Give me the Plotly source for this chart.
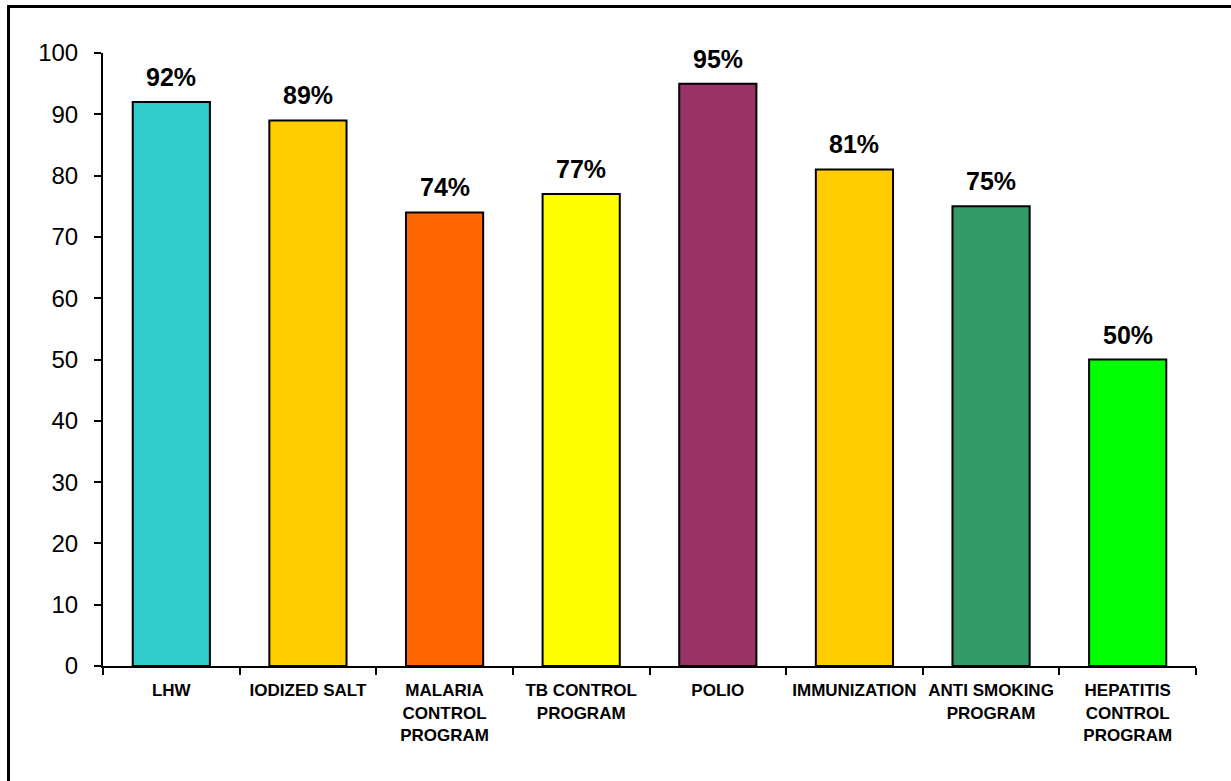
import plotly.graph_objects as go

# Programme awareness (%) by health programme
categories = [
    "LHW",
    "IODIZED SALT",
    "MALARIA<br>CONTROL<br>PROGRAM",
    "TB CONTROL<br>PROGRAM",
    "POLIO",
    "IMMUNIZATION",
    "ANTI SMOKING<br>PROGRAM",
    "HEPATITIS<br>CONTROL<br>PROGRAM",
]
values = [92, 89, 74, 77, 95, 81, 75, 50]
bar_colors = ["#33CCCC", "#FFCC00", "#FF6600", "#FFFF00",
              "#993366", "#FFCC00", "#339966", "#00FF00"]
y_ticks = list(range(0, 101, 10))

W, H = 1231, 781
ML, MR, MT, MB = 103, 35, 53, 115

fig = go.Figure(
    go.Bar(
        x=categories,
        y=values,
        marker=dict(color=bar_colors, line=dict(color="black", width=2)),
        width=0.565,
        hoverinfo="skip",
    )
)

# Percentage labels above each bar
for cat, val in zip(categories, values):
    fig.add_annotation(
        x=cat, y=val, text=f"<b>{val}%</b>",
        showarrow=False, yanchor="bottom", yshift=9,
        font=dict(family="Arial, Liberation Sans", size=25, color="black"),
    )

# Outer frame: left and top edges (the rest runs off the canvas)
pw, ph = W - ML - MR, H - MT - MB
def px(x):
    return (x - ML) / pw
def py(y):
    return (H - MB - y) / ph
frame = dict(type="line", xref="paper", yref="paper", line=dict(color="black", width=3))
fig.add_shape(x0=px(8.5), x1=px(8.5), y0=py(H + 50), y1=py(5), **frame)
fig.add_shape(x0=px(7), x1=px(W + 50), y0=py(6.5), y1=py(6.5), **frame)

fig.update_layout(
    width=W, height=H,
    margin=dict(l=ML, r=MR, t=MT, b=MB, pad=0, autoexpand=False),
    paper_bgcolor="white", plot_bgcolor="white",
    showlegend=False,
    font=dict(family="Arial, Liberation Sans", color="black"),
)
fig.update_xaxes(
    type="category", automargin=False, tickangle=0,
    showline=True, linecolor="black", linewidth=2,
    ticks="outside", tickson="boundaries", ticklen=7, tickwidth=2, tickcolor="black",
    ticklabelstandoff=8,
    tickfont=dict(family="Arial, Liberation Sans", size=17, color="black", weight="bold"),
    showgrid=False, zeroline=False, fixedrange=True,
)
fig.update_yaxes(
    range=[0, 100], tickvals=y_ticks, automargin=False,
    showline=True, linecolor="black", linewidth=2,
    ticks="outside", ticklen=7, tickwidth=2, tickcolor="black",
    ticklabelstandoff=11,
    tickfont=dict(family="Arial, Liberation Sans", size=24, color="black"),
    showgrid=False, zeroline=False, fixedrange=True,
)

fig.write_html("out.html")
